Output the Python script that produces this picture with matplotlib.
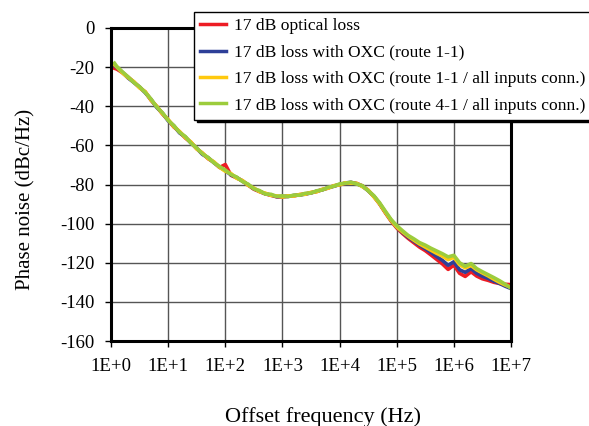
import matplotlib
matplotlib.use("Agg")
import matplotlib.pyplot as plt

plt.rcParams['font.family'] = ['Liberation Serif', 'DejaVu Serif']
plt.rcParams['axes.unicode_minus'] = False

# offset frequency (Hz), 10 points per decade
freq_hz = [1.15, 1.26, 1.58, 2.0, 2.51, 3.16, 3.98, 5.01, 6.31, 7.94,
           10.0, 12.6, 15.8, 20.0, 25.1, 31.6, 39.8, 50.1, 63.1, 79.4,
           100, 126, 158, 200, 251, 316, 398, 501, 631, 794,
           1.0e3, 1.26e3, 1.58e3, 2.0e3, 2.51e3, 3.16e3, 3.98e3, 5.01e3, 6.31e3, 7.94e3,
           1.0e4, 1.26e4, 1.58e4, 2.0e4, 2.51e4, 3.16e4, 3.98e4, 5.01e4, 6.31e4, 7.94e4,
           1.0e5, 1.26e5, 1.58e5, 2.0e5, 2.51e5, 3.16e5, 3.98e5, 5.01e5, 6.31e5, 7.94e5,
           1.0e6, 1.26e6, 1.58e6, 2.0e6, 2.51e6, 3.16e6, 3.98e6, 5.01e6, 6.31e6, 7.94e6,
           1.0e7]

# phase noise (dBc/Hz)
pn_optical = [-20.6, -21.0, -22.8, -25.2, -27.6, -30.4, -32.7, -36.9, -40.1, -43.9,
              -47.0, -50.6, -53.0, -56.2, -58.5, -61.7, -64.0, -66.8, -68.6, -71.3,
              -69.8, -75.3, -76.6, -78.1, -80.3, -82.4, -83.6, -84.8, -85.5, -86.3,
              -86.3, -86.0, -85.8, -85.2, -84.8, -84.2, -83.6, -82.6, -81.8, -80.7,
              -80.1, -79.4, -79.0, -79.5, -80.7, -83.0, -86.1, -89.9, -94.4, -98.6,
              -102.2, -105.0, -107.5, -109.8, -112.0, -113.8, -116.0, -118.3, -120.6, -123.4,
              -121.2, -125.4, -127.0, -124.6, -126.8, -128.2, -129.0, -130.0, -130.6, -131.0,
              -131.2]
pn_oxc_11 = [-19.3, -20.1, -22.6, -25.6, -27.8, -30.2, -33.1, -36.5, -40.6, -43.5,
             -47.4, -50.0, -53.6, -55.7, -58.8, -61.5, -64.6, -66.3, -68.8, -71.1,
             -72.9, -75.1, -76.4, -78.3, -80.2, -82.1, -83.5, -84.7, -85.4, -86.2,
             -86.1, -86.1, -85.6, -85.4, -84.9, -84.3, -83.4, -82.7, -81.6, -80.9,
             -80.0, -79.2, -78.9, -79.6, -80.9, -83.1, -86.0, -89.7, -94.1, -98.2,
             -101.8, -104.5, -106.9, -109.0, -111.0, -112.8, -114.7, -116.8, -118.8, -121.3,
             -119.5, -123.6, -124.9, -123.0, -125.4, -126.9, -128.0, -129.4, -130.6, -132.0,
             -133.2]
pn_oxc_11_all = [-18.8, -19.9, -22.9, -25.4, -27.4, -30.6, -32.6, -36.8, -40.0, -43.8,
                 -46.8, -50.4, -52.9, -56.0, -58.3, -61.8, -63.9, -66.7, -68.4, -71.2,
                 -73.2, -74.4, -76.8, -78.0, -80.4, -81.8, -83.7, -84.4, -85.6, -85.8,
                 -86.4, -85.8, -85.9, -85.1, -85.0, -84.0, -83.7, -82.4, -81.9, -80.6,
                 -80.2, -79.1, -79.3, -79.4, -81.1, -82.8, -86.3, -89.8, -94.2, -98.3,
                 -101.7, -104.2, -106.4, -108.5, -110.4, -112.0, -113.6, -115.2, -116.6, -118.4,
                 -117.2, -121.0, -122.6, -121.4, -123.6, -125.2, -126.7, -128.4, -130.0, -131.4,
                 -132.6]
pn_oxc_41_all = [-18.0, -19.6, -22.4, -25.0, -27.9, -30.0, -33.0, -36.3, -40.4, -43.3,
                 -47.2, -49.9, -53.3, -55.5, -58.9, -61.3, -64.3, -66.2, -68.9, -70.8,
                 -72.6, -74.9, -76.2, -78.5, -79.8, -82.2, -83.1, -84.9, -85.0, -86.1,
                 -85.8, -86.2, -85.4, -85.5, -84.5, -84.4, -83.2, -82.8, -81.4, -80.9,
                 -79.7, -79.4, -78.8, -79.8, -80.6, -83.2, -85.7, -89.3, -93.6, -97.8,
                 -101.0, -103.6, -106.0, -107.8, -109.7, -111.0, -112.6, -114.0, -115.4, -117.0,
                 -116.2, -120.0, -121.8, -120.4, -123.0, -124.6, -126.1, -127.6, -129.2, -131.0,
                 -133.0]

labels = ['17 dB optical loss',
          '17 dB loss with OXC (route 1-1)',
          '17 dB loss with OXC (route 1-1 / all inputs conn.)',
          '17 dB loss with OXC (route 4-1 / all inputs conn.)']
colors = ['#ed1c24', '#2e3f98', '#ffc90e', '#9ccc3c']

xticks = [1e0, 1e1, 1e2, 1e3, 1e4, 1e5, 1e6, 1e7]
xtick_labels = ['1E+0', '1E+1', '1E+2', '1E+3', '1E+4', '1E+5', '1E+6', '1E+7']
yticks = [0, -20, -40, -60, -80, -100, -120, -140, -160]

fig = plt.figure(figsize=(5.89, 4.26), dpi=100)
ax = fig.add_axes([111/589, 1 - 341/426, 400/589, 313/426])

series = [pn_optical, pn_oxc_11, pn_oxc_11_all, pn_oxc_41_all]
for vals, lab, col in zip(series, labels, colors):
    ax.plot(freq_hz, vals, color=col, lw=2.6, label=lab)

ax.set_xscale('log')
ax.set_xlim(1, 1e7)
ax.set_ylim(-160, 0)
ax.set_xticks(xticks)
ax.set_xticklabels(xtick_labels)
ax.minorticks_off()
ax.set_yticks(yticks)
ax.tick_params(direction='out', length=4, width=1, labelsize=13.5, pad=8)
ax.grid(True, color='#555555', lw=1)
for s in ax.spines.values():
    s.set_linewidth(2.2)

fig.text(26/589, 1 - 199/426, 'Phase noise (dBc/Hz)', rotation=90,
         ha='center', va='center', fontsize=15)
fig.text(323/589, 1 - 417/426, 'Offset frequency (Hz)',
         ha='center', va='center', fontsize=16)

leg = ax.legend(loc='upper left', bbox_to_anchor=(194/589, 1 - 12/426),
                bbox_transform=fig.transFigure, borderaxespad=0,
                fontsize=12.6, fancybox=False, framealpha=1, edgecolor='black',
                shadow={'color': 'black', 'alpha': 1},
                handlelength=1.5, handletextpad=0.45, labelspacing=0.58,
                borderpad=0.35)
leg.get_frame().set_linewidth(1)
for h in leg.get_lines():
    h.set_linewidth(2.5)

fig.savefig('out.png', dpi=100)
